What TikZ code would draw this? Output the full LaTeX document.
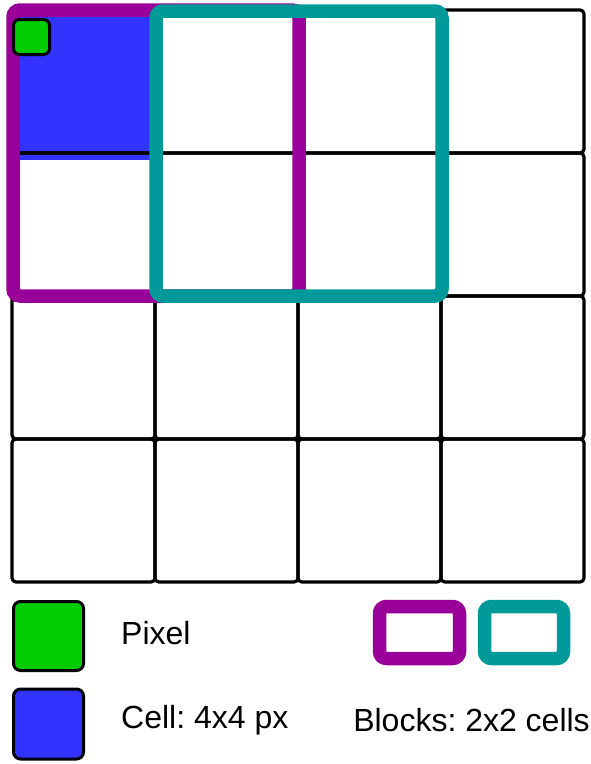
\documentclass[tikz,border=0pt]{standalone}
\usepackage{fontspec}
\setmainfont{Liberation Sans}
\frenchspacing
\definecolor{pxgreen}{HTML}{00CC00}
\definecolor{cellblue}{HTML}{3333FF}
\definecolor{blkpurple}{HTML}{990099}
\definecolor{blkteal}{HTML}{009999}
\begin{document}
\begin{tikzpicture}[x=1pt,y=-1pt,
  cellbox/.style={draw=black,line width=3.2pt,rounded corners=4pt},
  blockbox/.style={line width=13.5pt,rounded corners=7pt},
  legsq/.style={draw=black,line width=3pt,rounded corners=7pt},
  lbl/.style={font=\fontsize{32}{38}\selectfont,inner sep=0pt}]
\useasboundingbox (0,0) rectangle (591,764);
% blue cell fill
\fill[cellblue] (12,10) rectangle (155,160);
% grid cells
\foreach \i in {0,1,2,3}{
  \foreach \j in {0,1,2,3}{
    \draw[cellbox] ({12+143*\i},{10+143*\j}) rectangle ({12+143*(\i+1)},{10+143*(\j+1)});
  }
}
% blocks
\draw[blockbox,draw=blkpurple] (13,10) rectangle (299,296);
\draw[blockbox,draw=blkteal] (156,11) rectangle (442,296);
% pixel
\draw[legsq,fill=pxgreen,rounded corners=6pt] (13.5,19.5) rectangle (49.5,54.5);
% legend
\node[legsq,fill=pxgreen,minimum width=70pt,minimum height=69pt,inner sep=0pt] (lgreen) at (48.5,636) {};
\node[legsq,fill=cellblue,minimum width=70pt,minimum height=70pt,inner sep=0pt] (lblue) at (48.5,724) {};
\node[lbl,anchor=west] (tpixel) at (121,633) {Pixel};
\node[lbl,anchor=west] (tcell) at (121,720) {Cell: 4x4 px};
\node[lbl,anchor=east] (tblocks) at (590,720) {Blocks: 2x2 cells};
\draw[blockbox,draw=blkpurple] (379.5,606.5) rectangle (459.5,658.5);
\draw[blockbox,draw=blkteal] (484.5,606.5) rectangle (563.5,658.5);
\end{tikzpicture}
\end{document}
